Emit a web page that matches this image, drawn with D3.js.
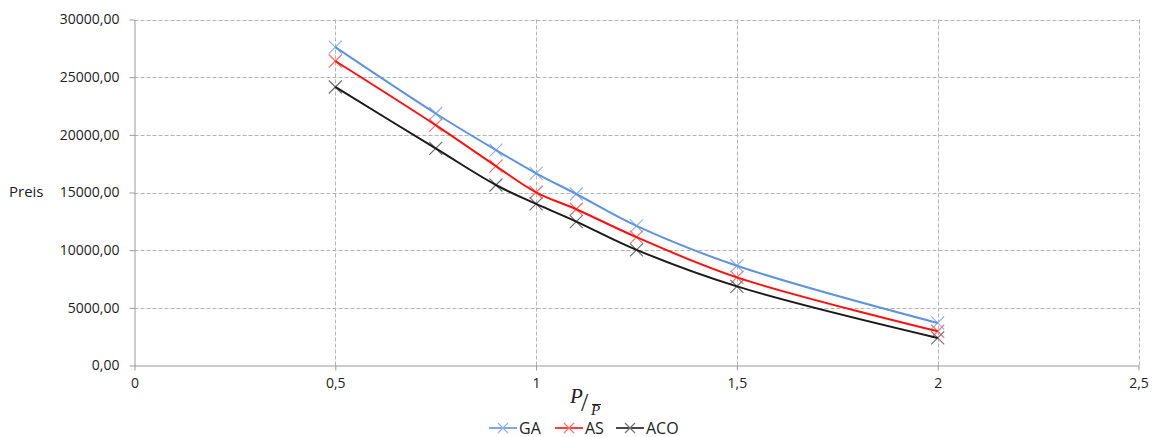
<!DOCTYPE html>
<html>
<head>
<meta charset="utf-8">
<script src="https://cdn.jsdelivr.net/npm/d3@7"></script>
<style>
  html, body { margin: 0; padding: 0; background: #fff; }
  svg text { font-family: "Open Sans", "Noto Sans", sans-serif; fill: #222; }
</style>
</head>
<body>
<svg id="chart" width="1156" height="437"></svg>
<script>
// Price over the load ratio P / P-bar for three solvers
const ratio = [0.5, 0.75, 0.9, 1.0, 1.1, 1.25, 1.5, 2.0];
const gaValues  = [27600, 21850, 18680, 16660, 14870, 12100, 8650, 3690];
const asValues  = [26400, 20840, 17290, 15020, 13550, 11130, 7640, 2970];
const acoValues = [24150, 18820, 15650, 14010, 12480, 10030, 6860, 2390];
const seriesNames = ["GA", "AS", "ACO"];
const xTicks = [0, 0.5, 1, 1.5, 2, 2.5];
const yTicks = [0, 5000, 10000, 15000, 20000, 25000, 30000];

const series = [
  { name: seriesNames[0], values: gaValues,  line: "#5f93dd", mark: "#8fb4ea" },
  { name: seriesNames[1], values: asValues,  line: "#ff1010", mark: "#ff7070" },
  { name: seriesNames[2], values: acoValues, line: "#1a1a1a", mark: "#707070" }
];

const svg = d3.select("#chart");
const plotLeft = 134.5, plotRight = 1138.5, plotTop = 19.5, plotBottom = 365.5;

const x = d3.scaleLinear().domain([0, 2.5]).range([plotLeft, plotRight]);
const y = d3.scaleLinear().domain([0, 30000]).range([plotBottom, plotTop]);

const fmtY = v => d3.format(".2f")(v).replace(".", ",");
const fmtX = v => String(v).replace(".", ",");

// dashed grid
const grid = svg.append("g").attr("stroke", "#b4b4b4").attr("stroke-dasharray", "4,2").attr("stroke-width", 1);
grid.selectAll("line.h").data(yTicks.filter(d => d > 0)).join("line")
  .attr("x1", plotLeft).attr("x2", plotRight)
  .attr("y1", d => Math.round(y(d)) + 0.5).attr("y2", d => Math.round(y(d)) + 0.5);
grid.selectAll("line.v").data(xTicks.filter(d => d > 0)).join("line")
  .attr("y1", plotTop).attr("y2", plotBottom)
  .attr("x1", d => Math.round(x(d)) + 0.5).attr("x2", d => Math.round(x(d)) + 0.5);

// axes
const yAxis = svg.append("g").attr("transform", `translate(${plotLeft},0)`)
  .call(d3.axisLeft(y).tickValues(yTicks).tickFormat(fmtY).tickSizeOuter(0).tickSizeInner(5).tickPadding(10));
const xAxis = svg.append("g").attr("transform", `translate(0,${plotBottom})`)
  .call(d3.axisBottom(x).tickValues(xTicks).tickFormat(fmtX).tickSizeOuter(0).tickSizeInner(5).tickPadding(8));
[yAxis, xAxis].forEach(a => {
  a.select(".domain").attr("stroke", "#9a9a9a");
  a.selectAll(".tick line").attr("stroke", "#9a9a9a");
  a.selectAll(".tick text").attr("font-size", 14).attr("fill", "#222")
    .attr("font-family", "'Open Sans', 'Noto Sans', sans-serif");
});

// axis titles
svg.append("text").attr("x", 9).attr("y", 197).attr("font-size", 15).text("Preis");

const xl = svg.append("g").attr("font-style", "italic");
xl.append("text").attr("x", 570).attr("y", 403).attr("font-size", 21)
  .style("font-family", "'Liberation Serif', serif").text("P");
xl.append("text").attr("x", 581).attr("y", 411).attr("font-size", 26)
  .style("font-family", "'Liberation Serif', serif").attr("font-style", "normal").text("/");
xl.append("text").attr("x", 591).attr("y", 415).attr("font-size", 15)
  .style("font-family", "'Liberation Serif', serif").text("P");
xl.append("line").attr("x1", 592).attr("x2", 601).attr("y1", 404.5).attr("y2", 404.5)
  .attr("stroke", "#222").attr("stroke-width", 1);

// curves
const line = d3.line().x((d, i) => x(ratio[i])).y(d => y(d)).curve(d3.curveCatmullRom.alpha(0.5));
const cross = (g, cx, cy, r, color) => {
  g.append("path")
    .attr("d", `M${cx - r},${cy - r}L${cx + r},${cy + r}M${cx - r},${cy + r}L${cx + r},${cy - r}`)
    .attr("stroke", color).attr("stroke-width", 1.2).attr("fill", "none");
};

series.forEach(s => {
  const g = svg.append("g");
  s.values.forEach((v, i) => cross(g, x(ratio[i]), y(v), 6.5, s.mark));
  g.append("path").attr("d", line(s.values)).attr("fill", "none")
    .attr("stroke", s.line).attr("stroke-width", 2);
});

// legend
const legendPos = [489, 555, 616];
series.forEach((s, i) => {
  const g = svg.append("g").attr("transform", `translate(${legendPos[i]},428)`);
  g.append("line").attr("x1", 0).attr("x2", 28).attr("stroke", s.line).attr("stroke-width", 1.6);
  cross(g, 14, 0, 5, s.mark);
  g.append("text").attr("x", 30).attr("y", 5.5).attr("font-size", 16).text(s.name);
});
</script>
</body>
</html>
